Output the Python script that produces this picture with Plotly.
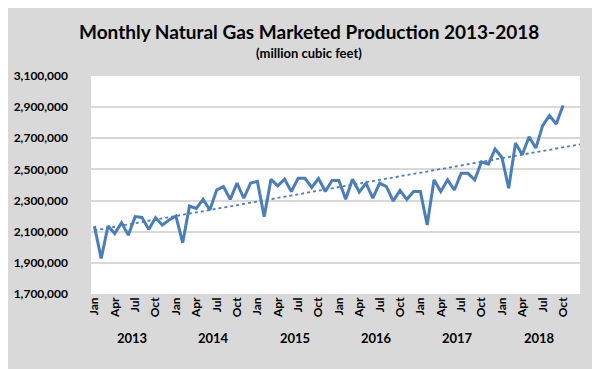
import numpy as np
import plotly.graph_objects as go

months = [f"{m} {y}" for y in range(2013, 2019) for m in
          ["Jan", "Feb", "Mar", "Apr", "May", "Jun", "Jul", "Aug", "Sep", "Oct", "Nov", "Dec"]][:70]

production = [
    2136000, 1928000, 2136000, 2089000, 2158000, 2078000, 2197000, 2192000, 2115000, 2190000, 2143000, 2175000,
    2201000, 2029000, 2265000, 2250000, 2308000, 2239000, 2368000, 2390000, 2308000, 2412000, 2315000, 2412000,
    2423000, 2197000, 2437000, 2394000, 2437000, 2358000, 2443000, 2443000, 2384000, 2441000, 2358000, 2429000,
    2429000, 2308000, 2437000, 2355000, 2410000, 2315000, 2412000, 2390000, 2297000, 2365000, 2308000, 2358000,
    2358000, 2143000, 2433000, 2358000, 2433000, 2368000, 2475000, 2475000, 2433000, 2549000, 2534000, 2631000,
    2577000, 2379000, 2669000, 2594000, 2710000, 2637000, 2781000, 2846000, 2792000, 2910000,
]

tick_labels = ["Jan", "Apr", "Jul", "Oct"] * 6
years = ["2013", "2014", "2015", "2016", "2017", "2018"]

idx = np.arange(len(production))
slope, intercept = np.polyfit(idx, production, 1)
trend_x = np.array([0, len(production) - 1 + 2.5])
trend_y = slope * trend_x + intercept

fig = go.Figure()
fig.add_trace(go.Scatter(
    x=trend_x, y=trend_y, mode="lines",
    line=dict(color="#4a7ebb", width=1.8, dash="dot"),
    hoverinfo="skip", showlegend=False,
))
fig.add_trace(go.Scatter(
    x=idx, y=production, mode="lines", text=months,
    line=dict(color="#4a7ebb", width=3),
    showlegend=False,
))

plot_left, plot_right = 83, 572
plot_top, plot_bottom = 68, 286
pw = plot_right - plot_left
ph = plot_bottom - plot_top

def px_x(x):
    return (x - plot_left) / pw

def px_y(y):
    return 1 + (plot_top - y) / ph

annotations = [
    dict(text="<b>Monthly Natural Gas Marketed Production 2013-2018</b>",
         x=px_x(301), y=px_y(23), xref="paper", yref="paper", showarrow=False,
         xanchor="center", yanchor="middle",
         font=dict(size=19, color="#000000")),
    dict(text="<b>(million cubic feet)</b>",
         x=px_x(301), y=px_y(45), xref="paper", yref="paper", showarrow=False,
         xanchor="center", yanchor="middle",
         font=dict(size=13, color="#000000")),
]

for k, yr in enumerate(years):
    annotations.append(dict(
        text=f"<b>{yr}</b>", x=12 * k + 5.5, xref="x",
        y=px_y(330), yref="paper", yanchor="middle",
        showarrow=False, font=dict(size=13, color="#000000"),
    ))

fig.update_layout(
    width=600, height=369,
    margin=dict(l=plot_left, r=600 - plot_right, t=plot_top, b=369 - plot_bottom),
    paper_bgcolor="#d9d9d9",
    plot_bgcolor="#ffffff",
    font=dict(family="Lato, 'Open Sans', sans-serif", color="#000000"),
    annotations=annotations,
    xaxis=dict(
        range=[-0.5, 71.5],
        tickmode="array",
        tickvals=list(range(0, 72, 3)),
        ticktext=[f"<b>{t}</b>" for t in tick_labels],
        tickangle=-90,
        tickfont=dict(size=12),
        showgrid=False, zeroline=False, showline=False, ticks="",
        automargin=False,
        fixedrange=True,
    ),
    yaxis=dict(
        range=[1700000, 3100000],
        tickmode="linear", tick0=1700000, dtick=200000,
        tickformat=",d",
        tickfont=dict(size=12),
        showgrid=True, gridcolor="#d9d9d9", gridwidth=1.5,
        zeroline=False, showline=False, ticks="",
        ticklabelstandoff=22,
        automargin=False,
        fixedrange=True,
    ),
)
fig.update_yaxes(tickprefix="<b>", ticksuffix="</b>")

fig.write_html("out.html")
